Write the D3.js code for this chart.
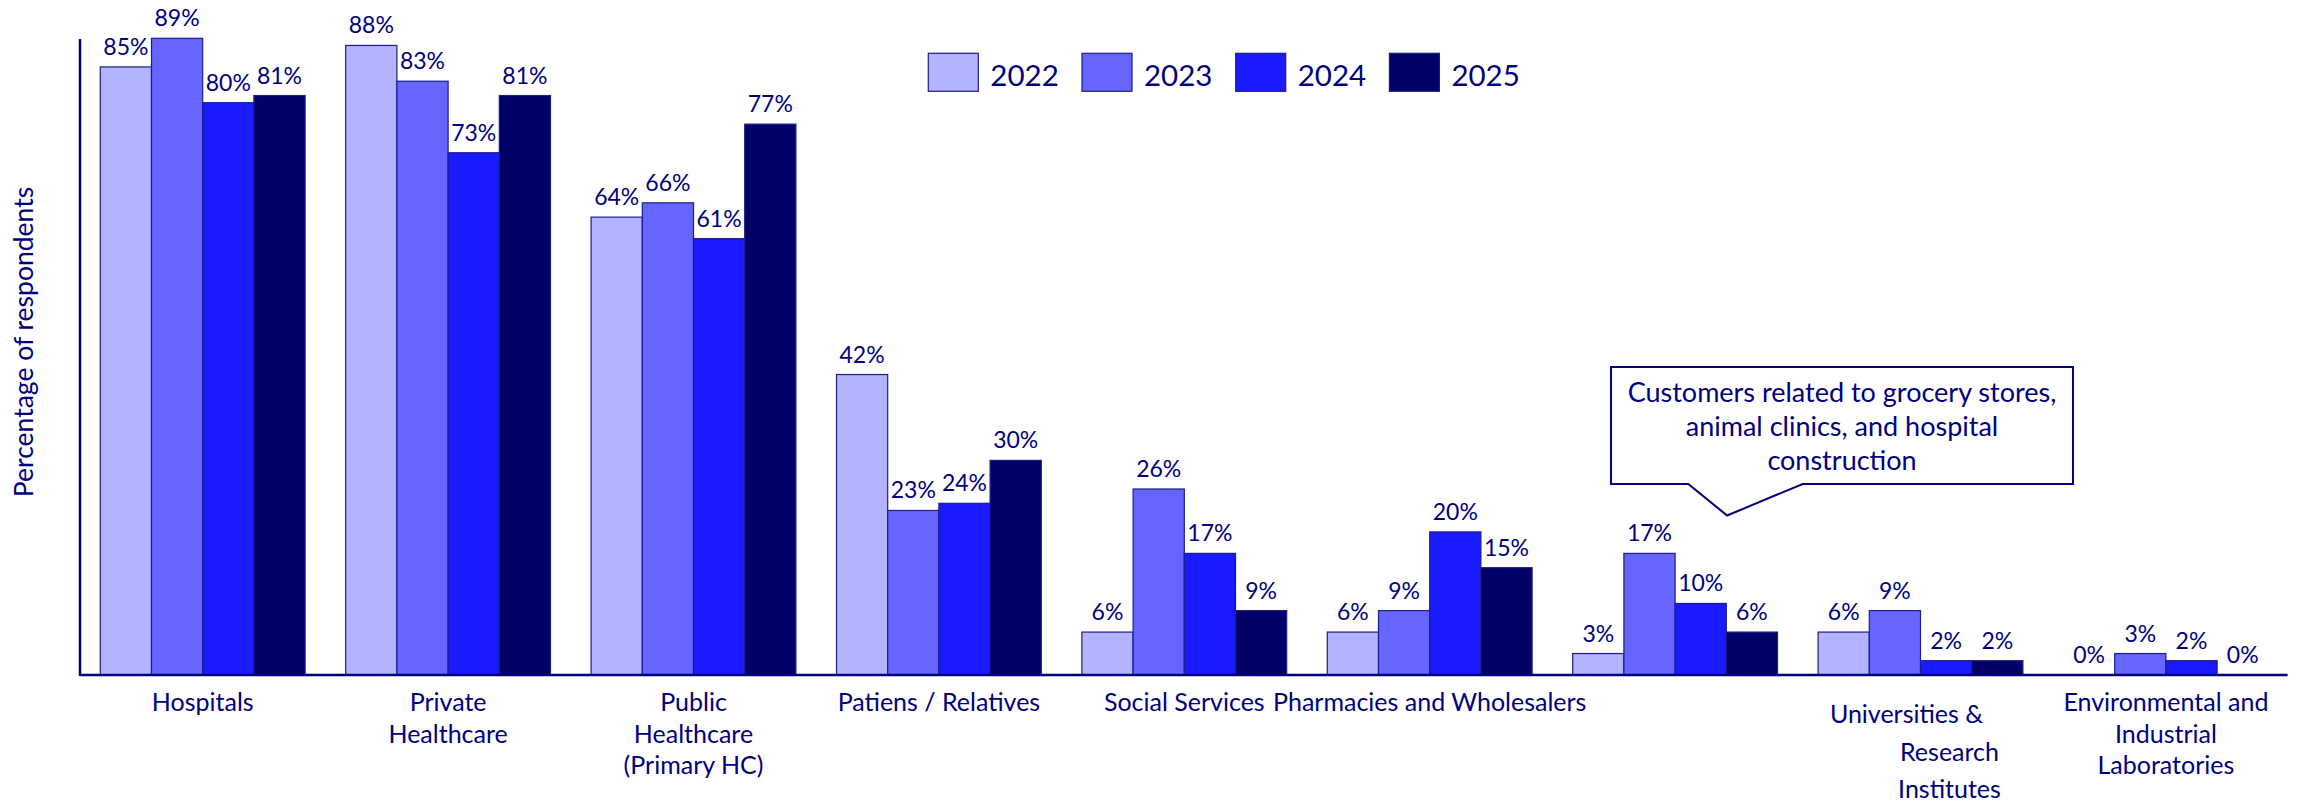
<!DOCTYPE html>
<html>
<head>
<meta charset="utf-8">
<script src="https://cdn.jsdelivr.net/npm/d3@7"></script>
<style>
  html, body { margin: 0; padding: 0; background: #ffffff; }
  svg { display: block; font-family: Lato, "Open Sans", sans-serif; }
</style>
</head>
<body>
<svg id="chart" width="2303" height="806"></svg>
<script>
// Customer segments (line breaks mark where each label wraps)
const categories = [
  "Hospitals",
  "Private\nHealthcare",
  "Public\nHealthcare\n(Primary HC)",
  "Patiens / Relatives",
  "Social Services",
  "Pharmacies and Wholesalers",
  "",
  "Universities &\nResearch\nInstitutes",
  "Environmental and\nIndustrial\nLaboratories"
];
const years = ["2022", "2023", "2024", "2025"];
const values2022 = [85, 88, 64, 42, 6, 6, 3, 6, 0];
const values2023 = [89, 83, 66, 23, 26, 9, 17, 9, 3];
const values2024 = [80, 73, 61, 24, 17, 20, 10, 2, 2];
const values2025 = [81, 81, 77, 30, 9, 15, 6, 2, 0];
const yAxisTitle = "Percentage of respondents";
const calloutLines = [
  "Customers related to grocery stores,",
  "animal clinics, and hospital",
  "construction"
];
const calloutCategory = 6;

const seriesValues = [values2022, values2023, values2024, values2025];
const colors = ["#b3b3ff", "#6666ff", "#1a1aff", "#000066"];
const ink = "#000080";

const svg = d3.select("#chart");

const plot = { left: 80, right: 2288.6, top: 39, bottom: 675 };

const x = d3.scaleBand()
  .domain(d3.range(categories.length))
  .range([plot.left, plot.right])
  .paddingInner(0.1654)
  .paddingOuter(0.0827);

const xs = d3.scaleBand()
  .domain(years)
  .range([0, x.bandwidth()]);

const y = d3.scaleLinear()
  .domain([0, 100])
  .range([plot.bottom, plot.bottom - 715.4]);

// Bars
const groups = svg.append("g")
  .selectAll("g")
  .data(categories.map((c, i) => ({ i, vals: seriesValues.map((s, k) => ({ year: years[k], k, v: s[i] })) })))
  .join("g")
  .attr("transform", d => `translate(${x(d.i)},0)`);

groups.selectAll("rect")
  .data(d => d.vals)
  .join("rect")
  .attr("x", d => xs(d.year))
  .attr("y", d => y(d.v))
  .attr("width", xs.bandwidth())
  .attr("height", d => y(0) - y(d.v))
  .attr("fill", d => colors[d.k])
  .attr("stroke", "#1c1c8c")
  .attr("stroke-width", d => d.v > 0 ? 1.2 : 0);

// Value labels
groups.selectAll("text.val")
  .data(d => d.vals)
  .join("text")
  .attr("class", "val")
  .attr("x", d => xs(d.year) + xs.bandwidth() / 2)
  .attr("y", d => y(d.v) - 12)
  .attr("text-anchor", "middle")
  .attr("font-size", 23)
  .attr("fill", ink)
  .text(d => d.v + "%");

// Axes lines
svg.append("line")
  .attr("x1", plot.left).attr("x2", plot.left)
  .attr("y1", plot.top).attr("y2", plot.bottom + 1)
  .attr("stroke", ink).attr("stroke-width", 2.5);

const xAxis = d3.axisBottom(x).tickSize(0).tickFormat("");
svg.append("g")
  .attr("transform", `translate(0,${plot.bottom})`)
  .call(xAxis)
  .call(g => g.select(".domain")
    .attr("stroke", ink)
    .attr("stroke-width", 2.5)
    .attr("d", `M${plot.left},0H${plot.right - 1}`));

// Category labels
const labelLayout = {
  7: [ { dx: -14, y: 723 }, { dx: 29, y: 761 }, { dx: 29, y: 798 } ]
};
categories.forEach((c, i) => {
  if (!c) return;
  const lines = c.split("\n");
  const cx = x(i) + x.bandwidth() / 2;
  const t = svg.append("text")
    .attr("text-anchor", "middle")
    .attr("font-size", 25)
    .attr("fill", ink);
  lines.forEach((ln, j) => {
    const lay = labelLayout[i] ? labelLayout[i][j] : { dx: 0, y: 711 + j * 31.6 };
    t.append("tspan")
      .attr("x", cx + lay.dx)
      .attr("y", lay.y)
      .text(ln);
  });
});

// Y axis title
svg.append("text")
  .attr("transform", "translate(33,342) rotate(-90)")
  .attr("text-anchor", "middle")
  .attr("font-size", 26.5)
  .attr("fill", ink)
  .text(yAxisTitle);

// Legend
const legend = svg.append("g")
  .selectAll("g")
  .data(years)
  .join("g")
  .attr("transform", (d, i) => `translate(${928.3 + i * 153.7},53.3)`);
legend.append("rect")
  .attr("width", 50).attr("height", 38)
  .attr("fill", (d, i) => colors[i])
  .attr("stroke", "#1c1c8c").attr("stroke-width", 1.2);
legend.append("text")
  .attr("x", 62).attr("y", 32.4)
  .attr("font-size", 29.5)
  .attr("fill", ink)
  .text(d => d);

// Callout pointing to the unlabelled segment
const bx0 = 1611, bx1 = 2073, by0 = 367, by1 = 484;
const tipX = x(calloutCategory) + x.bandwidth() * 0.5 + 52;
const tipY = by1 + 31.5;
svg.append("path")
  .attr("d", `M${bx0},${by0}H${bx1}V${by1}H1802.7L${tipX},${tipY}L1688.3,${by1}H${bx0}Z`)
  .attr("fill", "#ffffff")
  .attr("stroke", ink)
  .attr("stroke-width", 2);
const ct = svg.append("text")
  .attr("text-anchor", "middle")
  .attr("font-size", 27)
  .attr("fill", ink);
calloutLines.forEach((ln, j) => {
  ct.append("tspan").attr("x", (bx0 + bx1) / 2).attr("y", 401.5 + j * 34.2).text(ln);
});
</script>
</body>
</html>
